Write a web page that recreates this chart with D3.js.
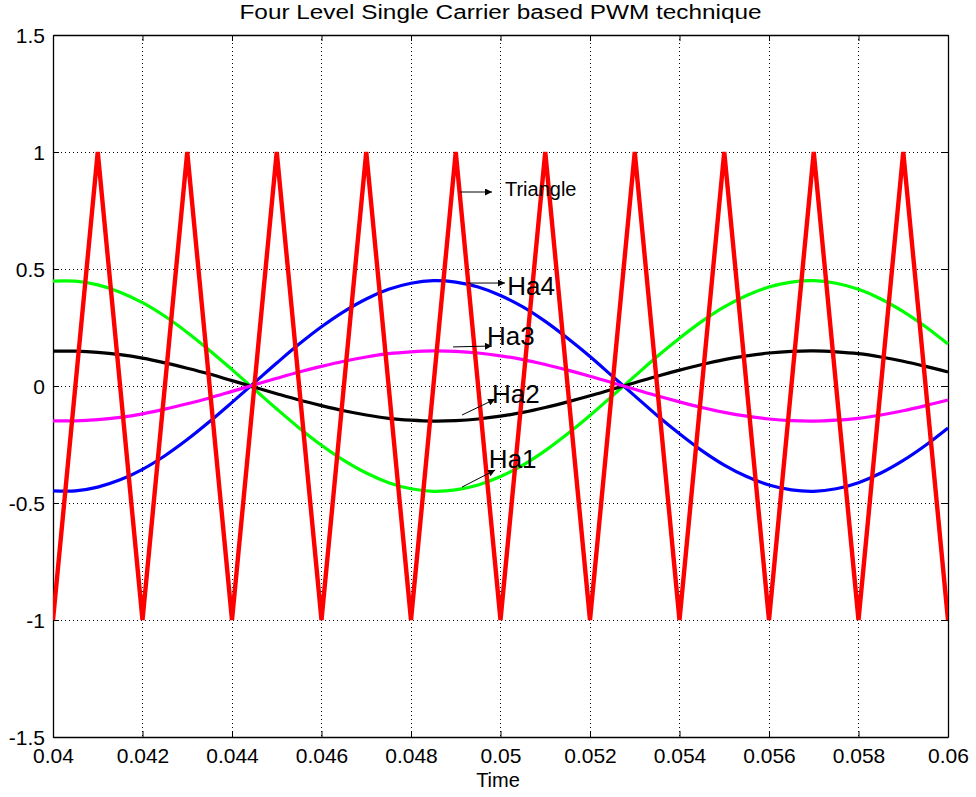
<!DOCTYPE html>
<html><head><meta charset="utf-8">
<script src="https://cdn.jsdelivr.net/npm/d3@7"></script>
<style>body{margin:0;background:#fff}svg{display:block;font-family:"Liberation Sans",Arial,sans-serif}</style>
</head><body>
<svg id="c" width="976" height="797"></svg>
<script>
// ---- data ----
const title = "Four Level Single Carrier based PWM technique";
const xLabel = "Time";
const xTicks = [0.04,0.042,0.044,0.046,0.048,0.05,0.052,0.054,0.056,0.058,0.06];
const yTicks = [-1.5,-1,-0.5,0,0.5,1,1.5];
const xTickLabels = ["0.04","0.042","0.044","0.046","0.048","0.05","0.052","0.054","0.056","0.058","0.06"];
const yTickLabels = ["-1.5","-1","-0.5","0","0.5","1","1.5"];

// carrier (triangle) vertices
const triTime = [0.04,0.041,0.042,0.043,0.044,0.045,0.046,0.047,0.048,0.049,0.05,0.051,0.052,0.053,0.054,0.055,0.056,0.057,0.058,0.059,0.06];
const triValue = [-1,1,-1,1,-1,1,-1,1,-1,1,-1,1,-1,1,-1,1,-1,1,-1,1,-1];

// modulating signals sampled every 0.0005 s
const sigTime = [0.04,0.0405,0.041,0.0415,0.042,0.0425,0.043,0.0435,0.044,0.0445,0.045,0.0455,0.046,0.0465,0.047,0.0475,0.048,0.0485,0.049,0.0495,0.05,0.0505,0.051,0.0515,0.052,0.0525,0.053,0.0535,0.054,0.0545,0.055,0.0555,0.056,0.0565,0.057,0.0575,0.058,0.0585,0.059,0.0595,0.06];
const ha4 = [-0.448,-0.448,-0.432,-0.401,-0.356,-0.298,-0.229,-0.152,-0.070,0.014,0.098,0.179,0.253,0.318,0.372,0.413,0.439,0.450,0.444,0.423,0.387,0.338,0.276,0.204,0.126,0.042,-0.042,-0.126,-0.204,-0.276,-0.338,-0.387,-0.423,-0.444,-0.450,-0.439,-0.413,-0.372,-0.318,-0.253,-0.179];
const ha1 = [0.448,0.448,0.432,0.401,0.356,0.298,0.229,0.152,0.070,-0.014,-0.098,-0.179,-0.253,-0.318,-0.372,-0.413,-0.439,-0.450,-0.444,-0.423,-0.387,-0.338,-0.276,-0.204,-0.126,-0.042,0.042,0.126,0.204,0.276,0.338,0.387,0.423,0.444,0.450,0.439,0.413,0.372,0.318,0.253,0.179];
const ha2 = [0.149,0.149,0.144,0.134,0.119,0.099,0.076,0.051,0.023,-0.005,-0.033,-0.060,-0.084,-0.106,-0.124,-0.138,-0.146,-0.150,-0.148,-0.141,-0.129,-0.113,-0.092,-0.068,-0.042,-0.014,0.014,0.042,0.068,0.092,0.113,0.129,0.141,0.148,0.150,0.146,0.138,0.124,0.106,0.084,0.060];
const ha3 = [-0.149,-0.149,-0.144,-0.134,-0.119,-0.099,-0.076,-0.051,-0.023,0.005,0.033,0.060,0.084,0.106,0.124,0.138,0.146,0.150,0.148,0.141,0.129,0.113,0.092,0.068,0.042,0.014,-0.014,-0.042,-0.068,-0.092,-0.113,-0.129,-0.141,-0.148,-0.150,-0.146,-0.138,-0.124,-0.106,-0.084,-0.060];

const seriesNames = ["Ha4","Ha1","Ha2","Ha3"];
const seriesColors = ["#0000ff","#00ff00","#000000","#ff00ff"];
const seriesValues = [ha4, ha1, ha2, ha3];
const carrierColor = "#ff0000";

// annotations (data coordinates): label, text start, arrow start, arrow end
const annoLabels = ["Triangle","Ha4","Ha3","Ha2","Ha1"];
const annoTextT = [0.05010,0.05015,0.04970,0.04981,0.04974];
const annoTextV = [0.812,0.389,0.175,-0.073,-0.350];
const annoFromT = [0.04909,0.04927,0.04894,0.04914,0.04914];
const annoFromV = [0.829,0.440,0.167,-0.124,-0.432];
const annoToT   = [0.04981,0.05010,0.04981,0.04988,0.04988];
const annoToV   = [0.829,0.440,0.171,-0.056,-0.359];
const annoSize = [20,26,26,26,26];

// ---- drawing ----
const svg = d3.select("#c");
const L=53, R=948, T=35, B=737;
const x = d3.scaleLinear().domain([0.04,0.06]).range([L,R]);
const y = d3.scaleLinear().domain([-1.5,1.5]).range([B,T]);

// grid
const g = svg.append("g");
g.selectAll(".gx").data(xTicks.slice(1,-1)).enter().append("line")
 .attr("x1",d=>x(d)).attr("x2",d=>x(d)).attr("y1",T).attr("y2",B)
 .attr("stroke","#000").attr("stroke-width",1).attr("stroke-dasharray","1,3").attr("shape-rendering","crispEdges");
g.selectAll(".gy").data(yTicks.slice(1,-1)).enter().append("line")
 .attr("y1",d=>y(d)).attr("y2",d=>y(d)).attr("x1",L).attr("x2",R)
 .attr("stroke","#000").attr("stroke-width",1).attr("stroke-dasharray","1,3").attr("shape-rendering","crispEdges");

// axes (ticks inward, frame)
const fmtX = (d,i)=>xTickLabels[i];
const fmtY = (d,i)=>yTickLabels[i];
const axB = svg.append("g").attr("transform",`translate(0,${B})`)
 .call(d3.axisBottom(x).tickValues(xTicks).tickFormat(fmtX).tickSizeInner(-6).tickSizeOuter(0));
const axT = svg.append("g").attr("transform",`translate(0,${T})`)
 .call(d3.axisTop(x).tickValues(xTicks).tickFormat("").tickSizeInner(-6).tickSizeOuter(0));
const axL = svg.append("g").attr("transform",`translate(${L},0)`)
 .call(d3.axisLeft(y).tickValues(yTicks).tickFormat(fmtY).tickSizeInner(-6).tickSizeOuter(0));
const axR = svg.append("g").attr("transform",`translate(${R},0)`)
 .call(d3.axisRight(y).tickValues(yTicks).tickFormat("").tickSizeInner(-6).tickSizeOuter(0));
[axB,axT,axL,axR].forEach(a=>{
  a.selectAll("path").attr("stroke","#000").attr("stroke-width",1.3);
  a.selectAll("line").attr("stroke","#000");
  a.selectAll("text").attr("fill","#000").attr("font-size",21).attr("font-family",'"Liberation Sans",Arial,sans-serif');
});
axB.selectAll("text").attr("dy",null).attr("y",26);
axL.selectAll("text").attr("x",-8).attr("dy","0.36em");

// series
const line = d3.line().x(d=>x(d[0])).y(d=>y(d[1])).curve(d3.curveCatmullRom);
seriesValues.forEach((vals,i)=>{
  svg.append("path").datum(sigTime.map((t,j)=>[t,vals[j]]))
   .attr("d",line).attr("fill","none").attr("stroke",seriesColors[i]).attr("stroke-width",3.2);
});
svg.append("clipPath").attr("id","clip").append("rect").attr("x",L).attr("y",T-20).attr("width",R-L).attr("height",B-T+40);
const lineLin = d3.line().x(d=>x(d[0])).y(d=>y(d[1]));
svg.append("path").datum(triTime.map((t,j)=>[t,triValue[j]]))
 .attr("d",lineLin).attr("fill","none").attr("stroke",carrierColor).attr("stroke-width",4.4).attr("stroke-linejoin","miter").attr("stroke-miterlimit",10)
 .attr("clip-path","url(#clip)");

// annotations
svg.append("defs").append("marker").attr("id","ah").attr("viewBox","0 0 10 10").attr("refX",10).attr("refY",5)
 .attr("markerWidth",11).attr("markerHeight",7).attr("markerUnits","userSpaceOnUse").attr("orient","auto")
 .append("path").attr("d","M0,0 L10,5 L0,10 z").attr("fill","#000");
annoLabels.forEach((lab,i)=>{
  svg.append("line").attr("x1",x(annoFromT[i])).attr("y1",y(annoFromV[i]))
   .attr("x2",x(annoToT[i])).attr("y2",y(annoToV[i]))
   .attr("stroke","#000").attr("stroke-width",1).attr("marker-end","url(#ah)");
  svg.append("text").attr("x",x(annoTextT[i])).attr("y",y(annoTextV[i]))
   .attr("font-size",annoSize[i]).attr("fill","#000").text(lab);
});

// title and label
svg.append("text").attr("x",(L+R)/2).attr("y",19).attr("text-anchor","middle").attr("font-size",20)
 .attr("textLength",522).attr("lengthAdjust","spacingAndGlyphs").text(title);
svg.append("text").attr("x",498).attr("y",787).attr("text-anchor","middle").attr("font-size",20).text(xLabel);
</script>
</body></html>
